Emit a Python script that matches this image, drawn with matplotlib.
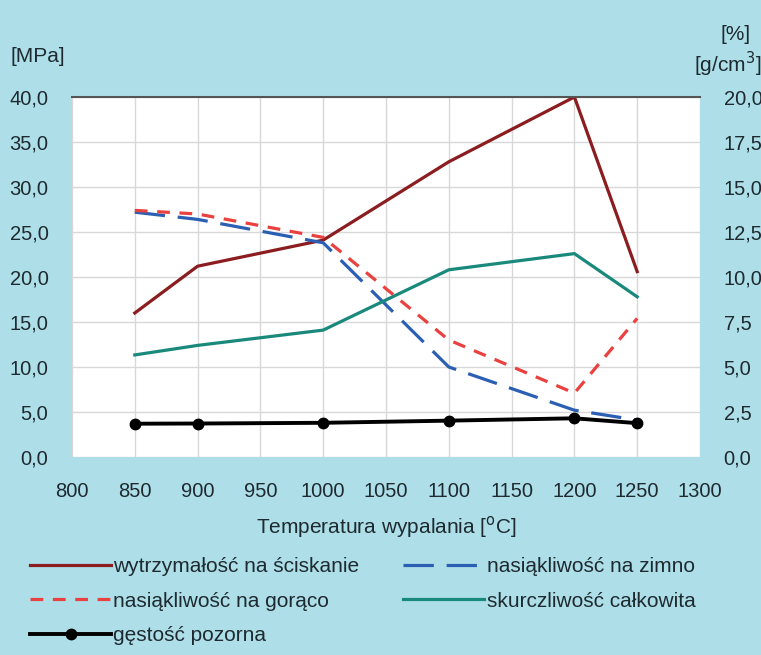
import matplotlib
matplotlib.use("Agg")
import matplotlib.pyplot as plt

plt.rcParams['font.family'] = ['Liberation Sans', 'DejaVu Sans']

temps = [850, 900, 1000, 1100, 1200, 1250]
wytrzymalosc = [16.0, 21.2, 24.1, 32.8, 40.0, 20.6]          # MPa, left axis
nasiakliwosc_zimno = [13.6, 13.2, 11.9, 5.0, 2.6, 2.05]      # %, right axis
nasiakliwosc_goraco = [13.7, 13.5, 12.2, 6.5, 3.55, 7.7]     # %, right axis
skurczliwosc = [5.67, 6.2, 7.05, 10.4, 11.3, 8.9]            # %, right axis
gestosc = [1.85, 1.86, 1.9, 2.02, 2.15, 1.88]                # g/cm3, right axis

x_ticks = [800, 850, 900, 950, 1000, 1050, 1100, 1150, 1200, 1250, 1300]
left_ticks = [0, 5, 10, 15, 20, 25, 30, 35, 40]
right_ticks = [0, 2.5, 5, 7.5, 10, 12.5, 15, 17.5, 20]

bg = '#aedfe9'
tc = '#1e2a30'
fig = plt.figure(figsize=(7.61, 6.55), dpi=100, facecolor=bg)
ax = fig.add_axes([72/761, 1-457/655, (700-72)/761, (457-97)/655])
ax.set_facecolor('white')
ax2 = ax.twinx()

ax.set_xlim(800, 1300)
ax.set_ylim(0, 40)
ax2.set_ylim(0, 20)
ax.set_xticks(x_ticks)
ax.set_yticks(left_ticks)
ax2.set_yticks(right_ticks)
fmt = lambda v: f"{v:.1f}".replace('.', ',')
ax.set_yticklabels([fmt(v) for v in left_ticks])
ax2.set_yticklabels([fmt(v) for v in right_ticks])
ax.set_xticklabels([str(v) for v in x_ticks])
ax.grid(True, color='#d8d8d8', linewidth=1)
ax.set_axisbelow(True)
for a in (ax, ax2):
    for s in a.spines.values():
        s.set_visible(False)
    a.tick_params(length=0, labelsize=14.5, colors=tc)
ax.spines['top'].set_visible(True)
ax.spines['top'].set_color('#555555')
ax.spines['top'].set_linewidth(1.5)
ax.tick_params(axis='y', pad=17)
ax.tick_params(axis='x', pad=18)
ax2.tick_params(axis='y', pad=17)

lw = 2.3
l1, = ax.plot(temps, wytrzymalosc, color='#8b1c1f', lw=lw, label='wytrzymałość na ściskanie')
l2, = ax2.plot(temps, nasiakliwosc_zimno, color='#2b5fb3', lw=lw, dashes=(9.5, 4),
               label='nasiąkliwość na zimno')
l3, = ax2.plot(temps, nasiakliwosc_goraco, color='#e9413f', lw=lw, dashes=(4, 3),
               label='nasiąkliwość na gorąco')
l4, = ax2.plot(temps, skurczliwosc, color='#19897b', lw=lw, label='skurczliwość całkowita')
l5, = ax2.plot(temps, gestosc, color='black', lw=lw + 0.5, marker='o', markersize=7.5,
               label='gęstość pozorna')

ax.set_xlabel('Temperatura wypalania [$^{\\rm o}$C]', fontsize=15, labelpad=9, color=tc)

fig.text(10/761, 1-57/655, '[MPa]', fontsize=15, va='center', ha='left', color=tc)
fig.text(736/761, 1-34/655, '[%]', fontsize=15, va='center', ha='center', color=tc)
fig.text(728/761, 1-64/655, '[g/cm$^{3}$]', fontsize=15, va='center', ha='center', color=tc)

# column-major fill -> rows: (l1, l2), (l3, l4), (l5, )
handles = [l1, l3, l5, l2, l4]
labels = [h.get_label() for h in handles]
leg = fig.legend(handles, labels, loc='upper left', bbox_to_anchor=(30/761, 1-557/655),
                 ncol=2, frameon=False, fontsize=15, handlelength=3.9, handletextpad=0.1,
                 columnspacing=2.1, labelspacing=0.75, borderaxespad=0, borderpad=0)
for t in leg.get_texts():
    t.set_color(tc)
fig.savefig('out.png', dpi=100, facecolor=bg)
